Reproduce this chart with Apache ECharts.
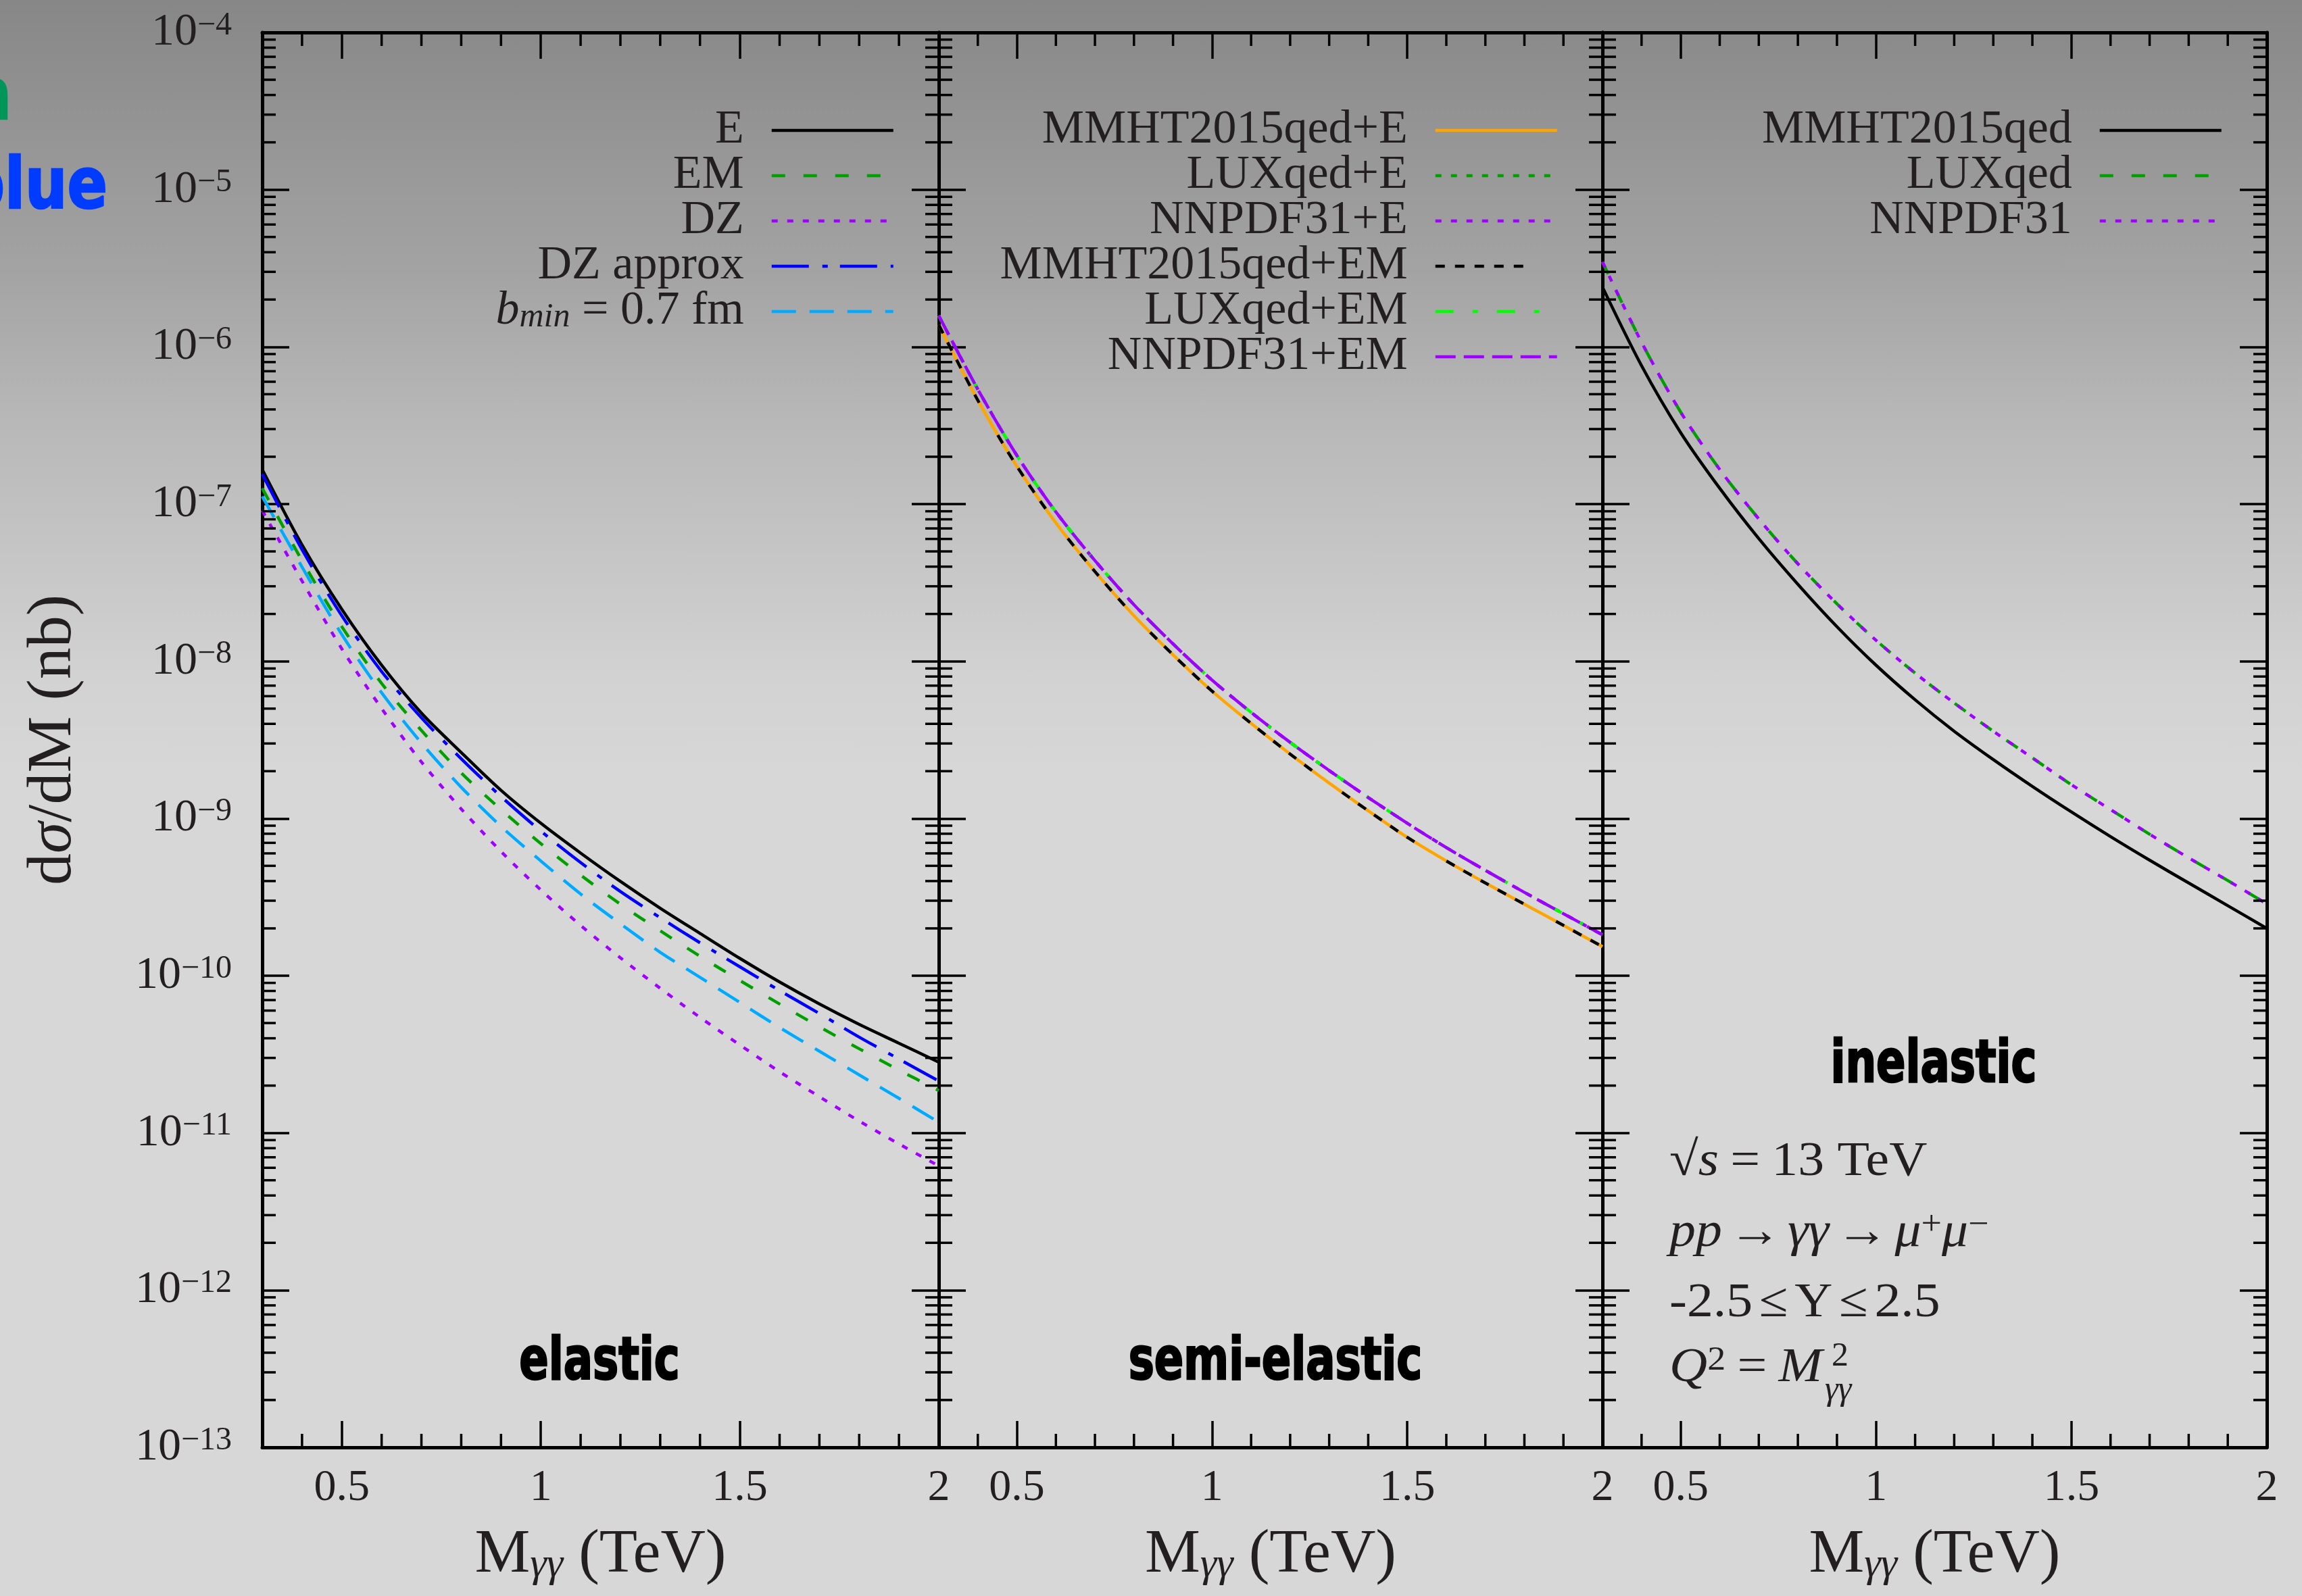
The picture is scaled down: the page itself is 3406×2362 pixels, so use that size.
<!DOCTYPE html>
<html>
<head>
<meta charset="utf-8">
<title>photon-photon dimuon</title>
<script src="https://cdn.jsdelivr.net/npm/echarts@6/dist/echarts.min.js"></script>
<style>
  html, body { margin: 0; padding: 0; }
  #chart {
    width: 3406px;
    height: 2362px;
    background: linear-gradient(to bottom, #878787 0px, #a3a3a3 400px, #b6b6b6 600px, #d2d2d2 1000px, #d7d7d7 1150px, #d7d7d7 100%);
  }
</style>
</head>
<body>
<div id="chart"></div>
<script>
// x grid (TeV)
const massTeV = [0.3, 0.4, 0.5, 0.6, 0.7, 0.8, 0.9, 1.0, 1.1, 1.2, 1.3, 1.4, 1.5, 1.6, 1.7, 1.8, 1.9, 2.0]

// elastic panel (nb/TeV)
const elE = [1.66e-7, 5.50e-8, 2.14e-8, 9.44e-9, 4.68e-9, 2.63e-9, 1.51e-9, 9.33e-10, 6.03e-10, 3.98e-10, 2.69e-10, 1.86e-10, 1.29e-10, 9.12e-11, 6.61e-11, 4.90e-11, 3.72e-11, 2.82e-11]
const elEM = [1.26e-7, 4.37e-8, 1.66e-8, 7.24e-9, 3.63e-9, 1.95e-9, 1.14e-9, 6.92e-10, 4.37e-10, 2.85e-10, 1.93e-10, 1.33e-10, 9.33e-11, 6.61e-11, 4.73e-11, 3.43e-11, 2.51e-11, 1.86e-11]
const elDZ = [9.12e-8, 3.24e-8, 1.20e-8, 5.01e-9, 2.29e-9, 1.15e-9, 6.17e-10, 3.51e-10, 2.09e-10, 1.30e-10, 8.32e-11, 5.43e-11, 3.63e-11, 2.45e-11, 1.70e-11, 1.19e-11, 8.51e-12, 6.17e-12]
const elDZapprox = [1.55e-7, 5.13e-8, 1.95e-8, 8.61e-9, 4.37e-9, 2.40e-9, 1.38e-9, 8.32e-10, 5.25e-10, 3.43e-10, 2.34e-10, 1.62e-10, 1.14e-10, 8.04e-11, 5.75e-11, 4.07e-11, 2.95e-11, 2.14e-11]
const elBmin = [1.12e-7, 3.98e-8, 1.48e-8, 6.31e-9, 3.02e-9, 1.58e-9, 8.91e-10, 5.37e-10, 3.31e-10, 2.14e-10, 1.41e-10, 9.77e-11, 6.76e-11, 4.68e-11, 3.31e-11, 2.34e-11, 1.66e-11, 1.17e-11]

// semi-elastic panel
const seMMHT_E = [1.38e-6, 4.57e-7, 1.74e-7, 7.59e-8, 3.72e-8, 1.95e-8, 1.10e-8, 6.46e-9, 4.03e-9, 2.57e-9, 1.68e-9, 1.12e-9, 7.59e-10, 5.37e-10, 3.89e-10, 2.85e-10, 2.09e-10, 1.53e-10]
const seLUX_E = [1.58e-6, 5.37e-7, 2.04e-7, 8.91e-8, 4.37e-8, 2.29e-8, 1.29e-8, 7.59e-9, 4.73e-9, 3.05e-9, 2.02e-9, 1.36e-9, 9.33e-10, 6.53e-10, 4.68e-10, 3.39e-10, 2.48e-10, 1.82e-10]
const seNNPDF_E = [1.58e-6, 5.37e-7, 2.04e-7, 8.91e-8, 4.37e-8, 2.29e-8, 1.29e-8, 7.59e-9, 4.73e-9, 3.05e-9, 2.02e-9, 1.36e-9, 9.33e-10, 6.53e-10, 4.68e-10, 3.39e-10, 2.48e-10, 1.82e-10]
const seMMHT_EM = [1.38e-6, 4.57e-7, 1.74e-7, 7.59e-8, 3.72e-8, 1.95e-8, 1.10e-8, 6.46e-9, 4.03e-9, 2.57e-9, 1.68e-9, 1.12e-9, 7.59e-10, 5.37e-10, 3.89e-10, 2.85e-10, 2.09e-10, 1.53e-10]
const seLUX_EM = [1.58e-6, 5.37e-7, 2.04e-7, 8.91e-8, 4.37e-8, 2.29e-8, 1.29e-8, 7.59e-9, 4.73e-9, 3.05e-9, 2.02e-9, 1.36e-9, 9.33e-10, 6.53e-10, 4.68e-10, 3.39e-10, 2.48e-10, 1.82e-10]
const seNNPDF_EM = [1.58e-6, 5.37e-7, 2.04e-7, 8.91e-8, 4.37e-8, 2.29e-8, 1.29e-8, 7.59e-9, 4.73e-9, 3.05e-9, 2.02e-9, 1.36e-9, 9.33e-10, 6.53e-10, 4.68e-10, 3.39e-10, 2.48e-10, 1.82e-10]

// inelastic panel
const inMMHT = [2.40e-6, 7.59e-7, 2.85e-7, 1.26e-7, 6.03e-8, 3.09e-8, 1.66e-8, 9.44e-9, 5.69e-9, 3.59e-9, 2.37e-9, 1.60e-9, 1.10e-9, 7.67e-10, 5.43e-10, 3.89e-10, 2.79e-10, 2.00e-10]
const inLUX = [3.47e-6, 1.07e-6, 3.85e-7, 1.66e-7, 8.04e-8, 4.17e-8, 2.32e-8, 1.36e-8, 8.41e-9, 5.43e-9, 3.59e-9, 2.43e-9, 1.64e-9, 1.14e-9, 7.94e-10, 5.62e-10, 4.03e-10, 2.86e-10]
const inNNPDF = [3.47e-6, 1.07e-6, 3.85e-7, 1.66e-7, 8.04e-8, 4.17e-8, 2.32e-8, 1.36e-8, 8.41e-9, 5.43e-9, 3.59e-9, 2.43e-9, 1.64e-9, 1.14e-9, 7.94e-10, 5.62e-10, 4.03e-10, 2.86e-10]

// ticks
const xMajorTicks = [0.5, 1, 1.5]
const xTickLabels = [0.5, 1, 1.5, 2]
const xMinorTicks = [0.4, 0.6, 0.7, 0.8, 0.9, 1.1, 1.2, 1.3, 1.4, 1.6, 1.7, 1.8, 1.9]
const yMinorTicks = []
for (let e = -13; e <= -5; e++) {
  for (let m = 2; m <= 9; m++) yMinorTicks.push(m * Math.pow(10, e))
}

const X_MIN = 0.3
const X_MAX = 2.0
const Y_MIN = 1e-13
const Y_MAX = 1e-4

const SERIF = "'Liberation Serif', 'DejaVu Serif', serif"
const BOLD = "'Liberation Sans Narrow', 'DejaVu Sans Condensed', 'Liberation Sans', sans-serif"
const INK = '#231f20'

const panels = [
  { left: 388, width: 1001 },
  { left: 1389, width: 982 },
  { left: 2371, width: 983 },
]

const chart = echarts.init(document.getElementById('chart'))

const curve = (name, values, panel, color, dash) => ({
  name,
  type: 'line',
  xAxisIndex: panel,
  yAxisIndex: panel,
  data: massTeV.map((m, i) => [m, values[i]]),
  smooth: 0.3,
  symbol: 'none',
  showSymbol: false,
  silent: true,
  lineStyle: { color, width: 4.5, type: dash },
  itemStyle: { color },
})

const DOT = [9, 14]
const DASH = [20, 27]

const lineSeries = [
  curve('E', elE, 0, '#000000', 'solid'),
  curve('EM', elEM, 0, '#00a000', DASH),
  curve('DZ', elDZ, 0, '#a000ff', DOT),
  curve('DZ approx', elDZapprox, 0, '#0000ff', [55, 20, 8, 18]),
  curve('b_min = 0.7 fm', elBmin, 0, '#00aaff', [36, 20]),

  curve('MMHT2015qed+E', seMMHT_E, 1, '#ffa500', 'solid'),
  curve('LUXqed+E', seLUX_E, 1, '#00a000', DOT),
  curve('NNPDF31+E', seNNPDF_E, 1, '#a000ff', DOT),
  curve('MMHT2015qed+EM', seMMHT_EM, 1, '#000000', [14, 15, 14, 15, 14, 15, 14, 15, 14, 55]),
  curve('LUXqed+EM', seLUX_EM, 1, '#00ff00', [27, 28, 8, 28]),
  curve('NNPDF31+EM', seNNPDF_EM, 1, '#a000ff', [30, 12]),

  curve('MMHT2015qed', inMMHT, 2, '#000000', 'solid'),
  curve('LUXqed', inLUX, 2, '#00a000', DASH),
  curve('NNPDF31', inNNPDF, 2, '#a000ff', DOT),
]

// minor ticks drawn through the axes' own scales
const tickStyle = { stroke: '#000', lineWidth: 3.5 }
const MINOR = 20

const minorTickSeries = []
panels.forEach((p, i) => {
  minorTickSeries.push({
    type: 'custom',
    xAxisIndex: i,
    yAxisIndex: i,
    silent: true,
    clip: false,
    z: 5,
    data: xMinorTicks.map((v) => [v, Y_MIN]),
    renderItem: (params, api) => {
      const v = api.value(0)
      const b = api.coord([v, Y_MIN])
      const t = api.coord([v, Y_MAX])
      return {
        type: 'group',
        children: [
          { type: 'line', shape: { x1: b[0], y1: b[1], x2: b[0], y2: b[1] - MINOR }, style: tickStyle },
          { type: 'line', shape: { x1: t[0], y1: t[1], x2: t[0], y2: t[1] + MINOR }, style: tickStyle },
        ],
      }
    },
  })
  minorTickSeries.push({
    type: 'custom',
    xAxisIndex: i,
    yAxisIndex: i,
    silent: true,
    clip: false,
    z: 5,
    data: yMinorTicks.map((w) => [X_MIN, w]),
    renderItem: (params, api) => {
      const w = api.value(1)
      const l = api.coord([X_MIN, w])
      const r = api.coord([X_MAX, w])
      return {
        type: 'group',
        children: [
          { type: 'line', shape: { x1: l[0], y1: l[1], x2: l[0] + MINOR, y2: l[1] }, style: tickStyle },
          { type: 'line', shape: { x1: r[0], y1: r[1], x2: r[0] - MINOR, y2: r[1] }, style: tickStyle },
        ],
      }
    },
  })
})

const frameLine = { show: true, onZero: false, lineStyle: { color: '#000', width: 5 } }
const majorTick = (len) => ({ show: true, inside: true, length: len, lineStyle: { color: '#000', width: 3.5 } })

const xAxes = []
panels.forEach((p, i) => {
  xAxes.push({
    type: 'value',
    gridIndex: i,
    position: 'bottom',
    min: X_MIN,
    max: X_MAX,
    axisLine: frameLine,
    axisTick: Object.assign(majorTick(39), { customValues: xMajorTicks }),
    axisLabel: {
      show: true,
      customValues: xTickLabels,
      margin: 28,
      fontSize: 66,
      fontFamily: SERIF,
      color: INK,
      formatter: (v) => String(v),
    },
    splitLine: { show: false },
    name: '{m|M}{g|γγ}{m| (TeV)}',
    nameLocation: 'middle',
    nameGap: 114,
    nameTextStyle: {
      rich: {
        m: { fontFamily: SERIF, fontSize: 92, lineHeight: 92, color: INK, verticalAlign: 'middle' },
        g: { fontFamily: SERIF, fontSize: 62, fontStyle: 'italic', lineHeight: 30, color: INK, verticalAlign: 'bottom' },
      },
    },
  })
})
panels.forEach((p, i) => {
  xAxes.push({
    type: 'value',
    gridIndex: i,
    position: 'top',
    min: X_MIN,
    max: X_MAX,
    axisLine: frameLine,
    axisTick: Object.assign(majorTick(39), { customValues: xMajorTicks }),
    axisLabel: { show: false },
    splitLine: { show: false },
  })
})

const yAxes = []
panels.forEach((p, i) => {
  yAxes.push({
    type: 'log',
    logBase: 10,
    gridIndex: i,
    position: 'left',
    min: Y_MIN,
    max: Y_MAX,
    axisLine: frameLine,
    axisTick: majorTick(40),
    axisLabel: {
      show: i === 0,
      margin: 45,
      formatter: (v) => '{b|10}{s|−' + -Math.round(Math.log10(v)) + '}',
      rich: {
        b: { fontFamily: SERIF, fontSize: 68, lineHeight: 68, color: INK, verticalAlign: 'middle' },
        s: { fontFamily: SERIF, fontSize: 48, lineHeight: 28, color: INK, verticalAlign: 'top' },
      },
    },
    splitLine: { show: false },
    name: i === 0 ? '{m|d}{i|σ}{m|/dM (nb)}' : '',
    nameLocation: 'middle',
    nameRotate: 90,
    nameGap: 262,
    nameTextStyle: {
      rich: {
        m: { fontFamily: SERIF, fontSize: 94, lineHeight: 94, color: INK },
        i: { fontFamily: SERIF, fontSize: 94, lineHeight: 94, fontStyle: 'italic', color: INK },
      },
    },
  })
})
panels.forEach((p, i) => {
  yAxes.push({
    type: 'log',
    logBase: 10,
    gridIndex: i,
    position: 'right',
    min: Y_MIN,
    max: Y_MAX,
    axisLine: frameLine,
    axisTick: majorTick(40),
    axisLabel: { show: false },
    splitLine: { show: false },
  })
})

const legendBase = {
  orient: 'vertical',
  align: 'right',
  itemWidth: 180,
  itemHeight: 20,
  itemGap: -3,
  padding: 0,
  top: 158,
  selectedMode: false,
  itemStyle: { opacity: 0 },
  lineStyle: { width: 4.5 },
  formatter: (name) => (name.indexOf('b_min') === 0 ? '{i|b}{u|min}{t| = 0.7 fm}' : name),
  textStyle: {
    fontFamily: SERIF,
    fontSize: 70,
    lineHeight: 67,
    color: INK,
    padding: [0, 36, 0, 0],
    rich: {
      t: { fontFamily: SERIF, fontSize: 70, lineHeight: 67, color: INK, verticalAlign: 'middle' },
      i: { fontFamily: SERIF, fontSize: 70, lineHeight: 67, fontStyle: 'italic', color: INK, verticalAlign: 'middle' },
      u: { fontFamily: SERIF, fontSize: 50, lineHeight: 30, fontStyle: 'italic', color: INK, verticalAlign: 'bottom' },
    },
  },
}

const legends = [
  { data: ['E', 'EM', 'DZ', 'DZ approx', 'b_min = 0.7 fm'], right: 2082 },
  { data: ['MMHT2015qed+E', 'LUXqed+E', 'NNPDF31+E', 'MMHT2015qed+EM', 'LUXqed+EM', 'NNPDF31+EM'], right: 1100 },
  { data: ['MMHT2015qed', 'LUXqed', 'NNPDF31'], right: 117 },
].map((l) => Object.assign({}, legendBase, l))

const serifText = (x, y, text, rich) => ({
  type: 'text',
  x,
  y,
  scaleX: 1.08,
  silent: true,
  style: {
    text,
    fill: INK,
    font: `72px ${SERIF}`,
    align: 'left',
    verticalAlign: 'middle',
    rich,
  },
})

const annoRich = {
  i: { fontFamily: SERIF, fontSize: 72, fontStyle: 'italic', lineHeight: 72, fill: INK, verticalAlign: 'middle' },
  n: { fontFamily: SERIF, fontSize: 72, lineHeight: 72, fill: INK, verticalAlign: 'middle' },
  q: { fontFamily: SERIF, fontSize: 72, lineHeight: 72, fill: INK, verticalAlign: 'middle', padding: [0, 9, 0, 9] },
  e: { fontFamily: SERIF, fontSize: 72, lineHeight: 72, fill: INK, verticalAlign: 'middle', padding: [0, 16, 0, 16] },
  sup: { fontFamily: SERIF, fontSize: 50, lineHeight: 28, fill: INK, verticalAlign: 'top' },
}

const boldLabel = (x, y, text, size, color, align, sx) => ({
  type: 'text',
  x,
  y,
  scaleX: sx,
  silent: true,
  style: {
    text,
    fill: color,
    stroke: color,
    lineWidth: 2.5,
    font: `bold ${size}px ${BOLD}`,
    align,
    verticalAlign: 'middle',
  },
})

const graphics = [
  // clipped words at the left margin
  boldLabel(17, 148, 'green', 106, '#00965a', 'right', 0.92),
  boldLabel(159, 280, 'blue', 106, '#003cff', 'right', 0.92),
  // panel titles
  boldLabel(887, 2018, 'elastic', 88, '#000', 'center', 0.81),
  boldLabel(1887, 2018, 'semi-elastic', 88, '#000', 'center', 0.81),
  boldLabel(2861, 1578, 'inelastic', 88, '#000', 'center', 0.81),
  // process description
  serifText(2470, 1720, '{n|√}{i|s}{e|=}{n|13 TeV}', annoRich),
  serifText(2470, 1825, '{i|pp}{q|→}{i|γγ}{q|→}{i|μ}{sup|+}{i|μ}{sup|−}', annoRich),
  serifText(2470, 1929, '{n|-2.5}{q|≤}{n|Y}{q|≤}{n|2.5}', annoRich),
  serifText(2470, 2025, '{i|Q}{sup|2}{e|=}{i|M}', annoRich),
  { type: 'text', x: 2710, y: 2008, silent: true, style: { text: '2', fill: INK, font: `50px ${SERIF}`, align: 'left', verticalAlign: 'middle' } },
  { type: 'text', x: 2700, y: 2058, silent: true, style: { text: 'γγ', fill: INK, font: `italic 50px ${SERIF}`, align: 'left', verticalAlign: 'middle' } },
]

const option = {
  backgroundColor: 'transparent',
  animation: false,
  grid: panels.map((p) => ({ left: p.left, top: 48, width: p.width, height: 2094 })),
  xAxis: xAxes,
  yAxis: yAxes,
  legend: legends,
  series: lineSeries.concat(minorTickSeries),
  graphic: graphics,
}

chart.setOption(option)

window.addEventListener('resize', () => {
  chart.resize()
})
</script>
</body>
</html>
